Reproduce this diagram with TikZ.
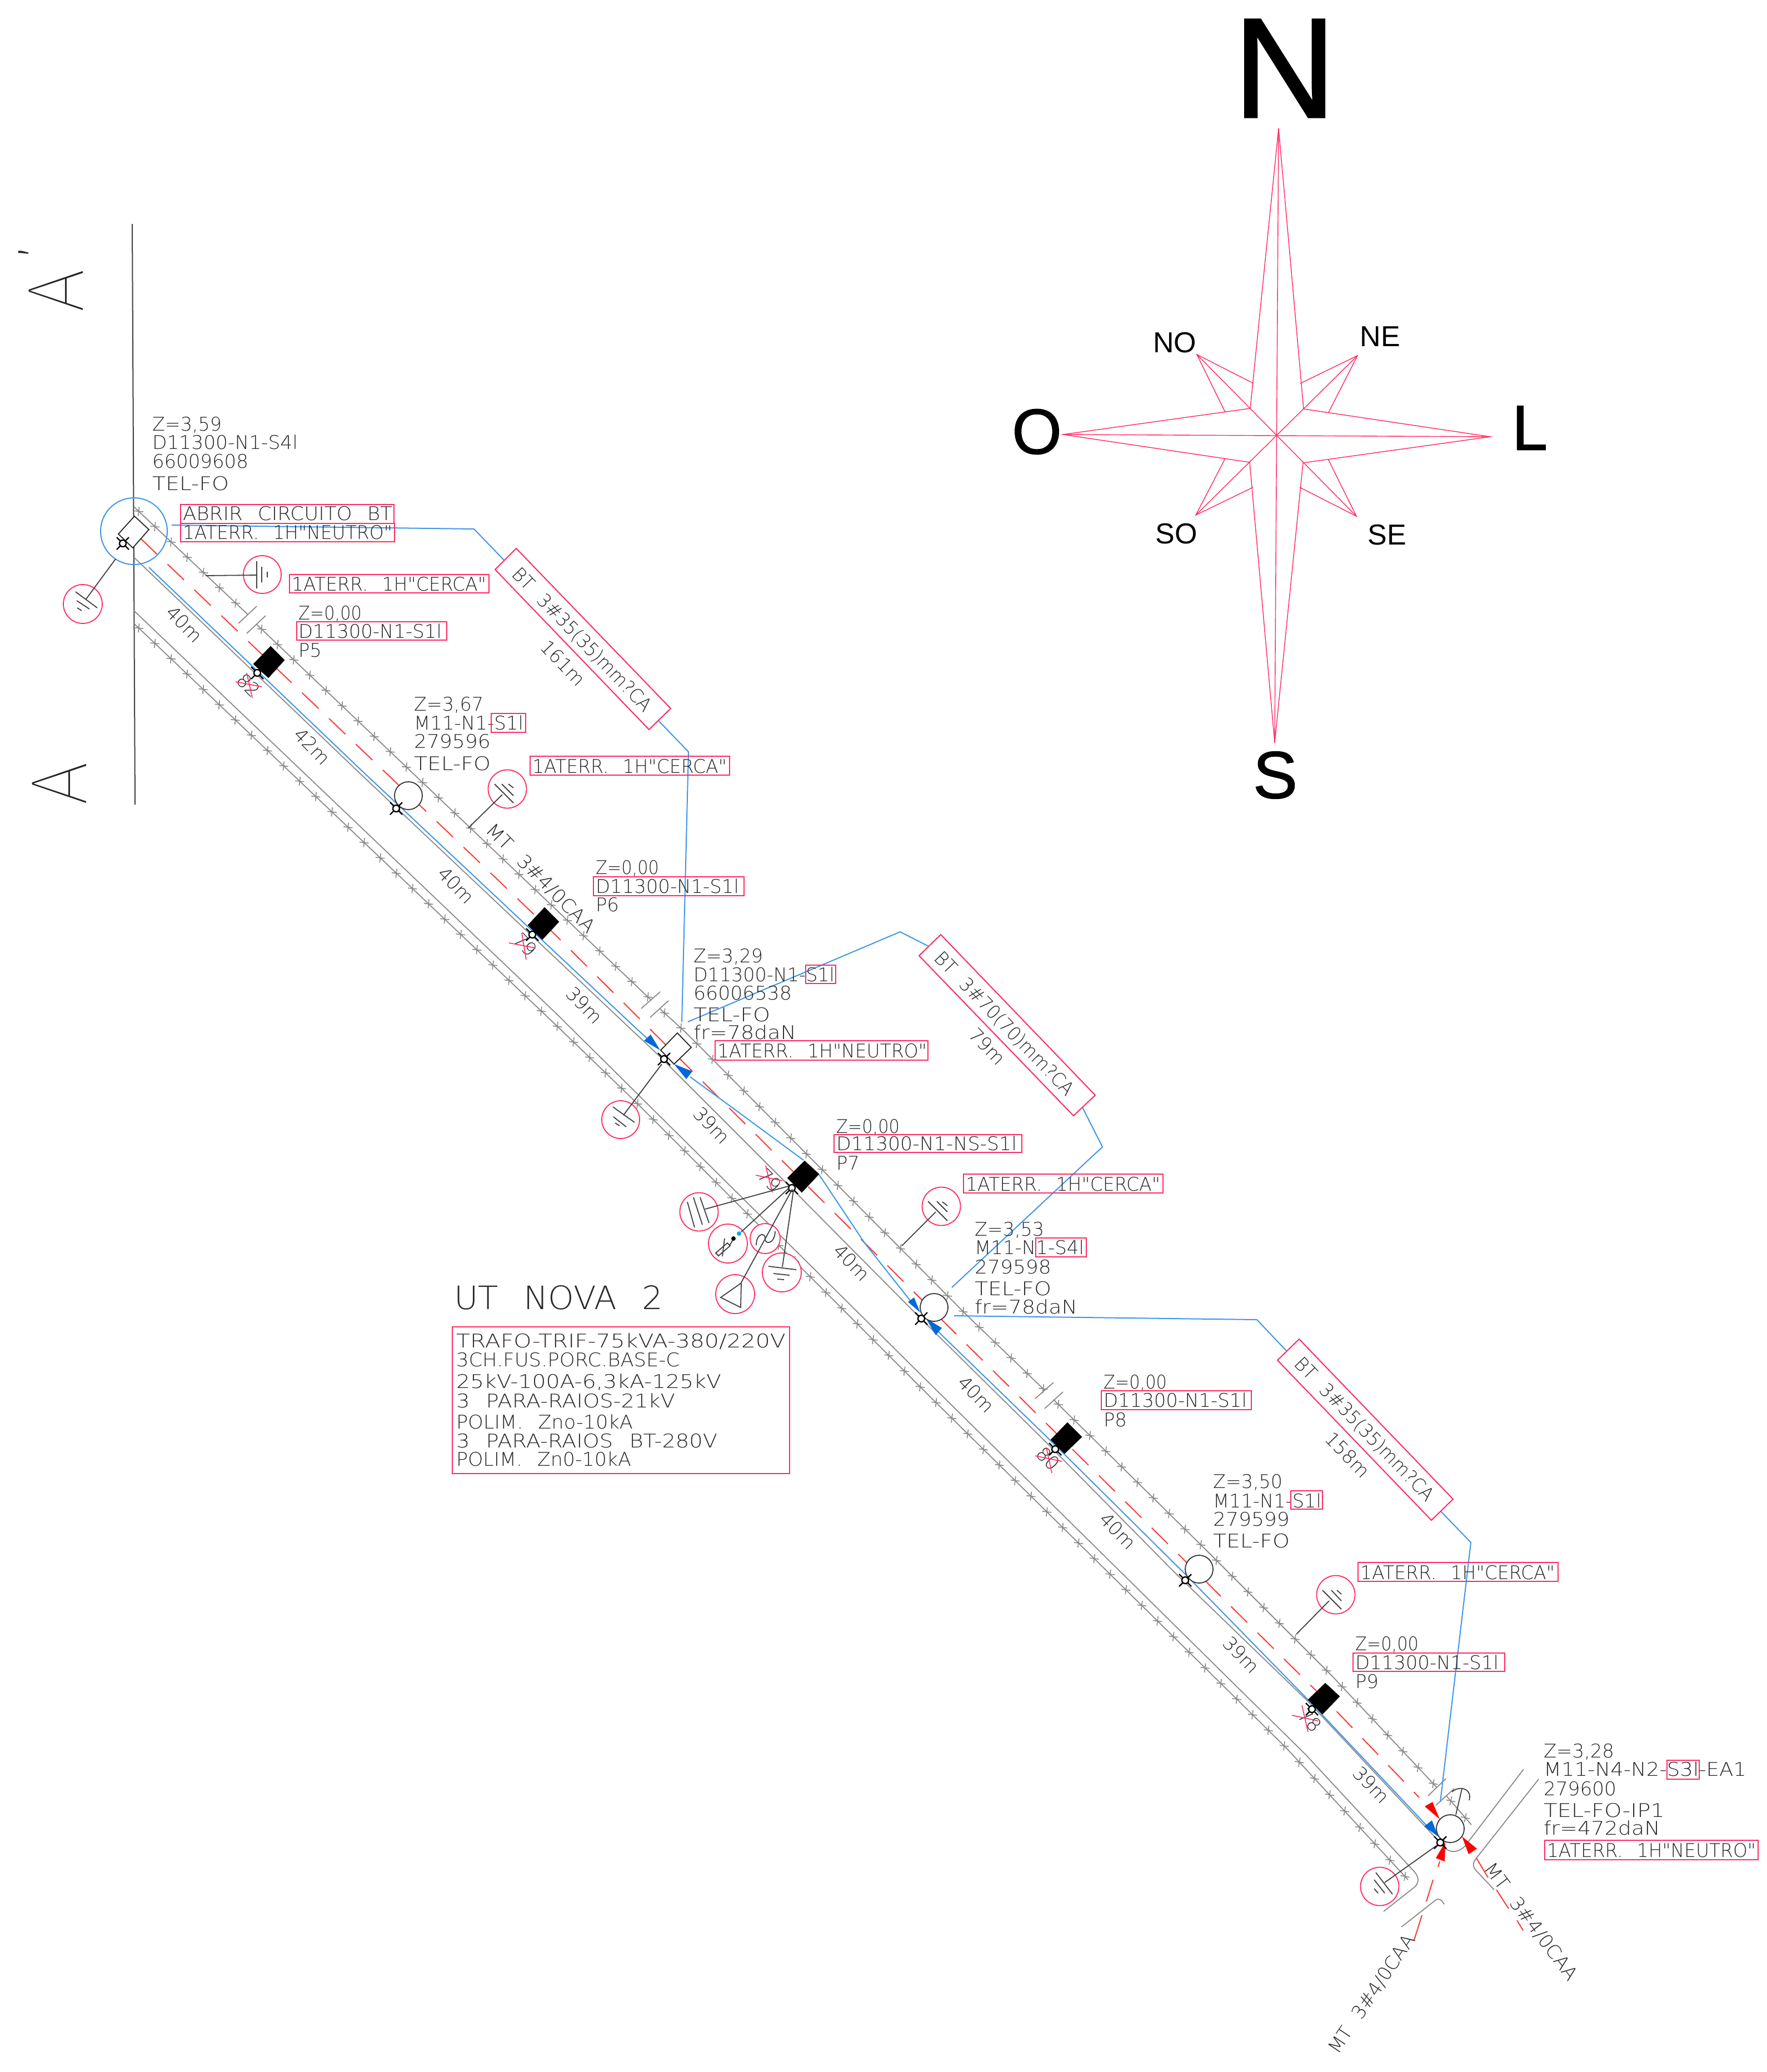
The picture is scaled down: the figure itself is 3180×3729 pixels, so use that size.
\documentclass[tikz,border=0pt]{standalone}
\usepackage{graphicx}
\usepackage{fontspec}
\usetikzlibrary{decorations.markings}
\newfontfamily\cadfam[WordSpace=2.4]{DejaVu Sans ExtraLight}
\newfontfamily\thinfam{Fira Sans Thin}
\newfontfamily\arialfam{Liberation Sans}
\newfontfamily\arialheavy[FakeBold=1.2]{Liberation Sans}
\newcommand\cadsize{\cadfam\fontsize{34}{34}\selectfont}
\newcommand\cadlarge{\cadfam\fontsize{58}{58}\selectfont}
\newcommand\T[2]{\resizebox{#1pt}{\height}{#2}}
\definecolor{txtgray}{HTML}{2A2A2A}
\definecolor{roadgray}{HTML}{8A8A8A}
\definecolor{pinkline}{HTML}{FF2A62}
\definecolor{redline}{HTML}{FF3838}
\definecolor{blueline}{HTML}{3F96E8}
\definecolor{bluefill}{HTML}{0068D9}
\tikzset{
  lbl/.style={anchor=base west,inner sep=0pt,outer sep=0pt,text=txtgray,font=\cadsize},
  rlbl/.style={anchor=center,inner sep=0pt,outer sep=0pt,text=txtgray,font=\cadsize,rotate=#1},
  secl/.style={anchor=base west,inner sep=0pt,outer sep=0pt,text=black!85,rotate=90},
  pinkbox/.style={draw=pinkline,line width=2pt},
  pinkring/.style={draw=pinkline,line width=1.8pt,fill=white},
  earth/.style={draw=black!75,line width=1.8pt},
  road/.style={draw=roadgray,line width=1.8pt},
  fencemarks/.style={road,postaction={decorate},decoration={markings,
     mark=between positions 12pt and 1 step 40pt with {
       \draw[draw=roadgray,line width=1.6pt] (-6.5pt,-5pt)--(6.5pt,5pt) (-5pt,6.5pt)--(5pt,-6.5pt);}}},
  reddash/.style={draw=redline,line width=2pt,dash pattern=on 41pt off 26pt},
  bluew/.style={draw=blueline,line width=2pt},
  bluearrow/.style={fill=bluefill,draw=none},
  redarrow/.style={fill=red,draw=none},
  polecirc/.style={draw=black!80,line width=1.8pt,fill=white},
  polesq/.style={draw=black!85,line width=1.8pt,fill=white},
  polefill/.style={fill=black,draw=black},
  rosa/.style={draw=pinkline,line width=1.4pt},
  cardinal/.style={anchor=center,inner sep=0pt,outer sep=0pt,text=black},
  polemark/.pic={
    \draw[black,line width=2.4pt] (-11pt,-11pt)--(-4pt,-4pt) (11pt,-11pt)--(4pt,-4pt) (-11pt,11pt)--(-4pt,4pt) (11pt,11pt)--(4pt,4pt);
    \draw[black,line width=2.4pt,fill=white] (0pt,0pt) circle (6pt);
  }
}
\begin{document}
\begin{tikzpicture}[x=1pt,y=-1pt]
\useasboundingbox (0,0) rectangle (3180,3729);
% section line
\draw[black!75,line width=2pt] (238,403)--(243,1448);
\node[secl,font=\thinfam\fontsize{143}{143}\selectfont] (secA1) at (149,562) {\T{78}{A}};
\node[secl,font=\cadfam\fontsize{80}{80}\selectfont] (secA1p) at (91,466) {’};
\node[secl,font=\thinfam\fontsize{143}{143}\selectfont] (secA2) at (155,1449) {\T{78}{A}};
% compass
\draw[rosa] (2250,735)--(2301,231)--(2346,736)--(2682,786)--(2345,833)--(2294,1337)--(2249,832)--(1913,782)--(2250,735);
\draw[rosa] (2301,231)--(2294,1337) (1913,782)--(2682,786);
\draw[rosa] (2154,638)--(2441,929) (2443,640)--(2152,927);
\draw[rosa] (2256,690)--(2154,638)--(2205,742);
\draw[rosa] (2340,690)--(2443,640)--(2391,742);
\draw[rosa] (2205,825)--(2152,927)--(2255,877);
\draw[rosa] (2390,826)--(2441,929)--(2339,877);
\node[cardinal,font=\arialheavy\fontsize{256}{256}\selectfont] (cN) at (2312,123) {N};
\node[cardinal,font=\arialheavy\fontsize{120}{120}\selectfont] (cS) at (2295,1395) {S};
\node[cardinal,font=\arialheavy\fontsize{115}{115}\selectfont] (cO) at (1866,777) {O};
\node[cardinal,font=\arialheavy\fontsize{115}{115}\selectfont] (cL) at (2753,770) {L};
\node[cardinal,font=\arialfam\fontsize{52}{52}\selectfont] (cNO) at (2114,617) {NO};
\node[cardinal,font=\arialfam\fontsize{52}{52}\selectfont] (cNE) at (2484,606) {NE};
\node[cardinal,font=\arialfam\fontsize{52}{52}\selectfont] (cSO) at (2117,961) {SO};
\node[cardinal,font=\arialfam\fontsize{52}{52}\selectfont] (cSE) at (2496,963) {SE};
% upper fence with gaps
\draw[fencemarks] (241,912)--(446,1106);
\draw[fencemarks] (462,1124)--(1172,1800);
\draw[fencemarks] (1187,1815)--(1234,1858)--(1742,2369)--(1880,2502);
\draw[fencemarks] (1896,2519)--(2171,2790)--(2397,3016)--(2586,3217);
\draw[fencemarks] (2603,3232)--(2648,3284);
\draw[road] (429,1122)--(462,1091) (444,1140)--(478,1108);
\draw[road] (1154,1815)--(1188,1785) (1170,1831)--(1203,1801);
\draw[road] (1863,2517)--(1896,2488) (1880,2535)--(1913,2505);
\draw[road] (2570,3232)--(2602,3201) (2584,3249)--(2617,3219);
% road edges
\draw[road] (241,1003)--(650,1394)--(1186,1900)--(1418,2132)--(1653,2369)--(1882,2595)--(2119,2835)--(2354,3062)--(2586,3310)
   .. controls (2601,3332) and (2617,3340) .. (2636,3323)--(2742,3184);
\draw[road] (2769,3202)--(2657,3344) .. controls (2650,3353) and (2650,3358) .. (2656,3366)--(2689,3401);
\draw[road] (2522,3468)--(2583,3420) .. controls (2590,3415) and (2595,3420) .. (2599,3427);
\draw[road] (241,1099)--(1000,1823)--(1650,2467)--(2350,3158)--(2545,3368)
   .. controls (2554,3378) and (2554,3388) .. (2546,3396)--(2490,3440);
\draw[fencemarks] (241,1122)--(1006,1850)--(1148,1987)--(1659,2499)--(2315,3146)--(2534,3383);
% medium voltage line
\draw[reddash] (253,969)--(1000,1683)--(1740,2420)--(2396,3070)--(2554,3235);
\draw[draw=redline,line width=2pt] (2591,3350)--(2588,3360) (2579,3383)--(2567,3422) (2559,3447)--(2545,3491);
\draw[draw=redline,line width=2pt] (2657,3344)--(2678,3379) (2693,3401)--(2715,3435) (2730,3456)--(2741,3474);
% low voltage line
\draw[bluew] (268,1021)--(650,1386)--(1144,1850)--(1175,1878);
\draw[bluew] (1242,1938)--(1316,1992)--(1446,2088);
\draw[bluew] (1474,2114)--(1556,2237)--(1640,2343);
\draw[bluew] (1689,2397)--(1890,2592)--(2135,2835)--(2354,3059)--(2567,3285);
\fill[bluearrow] (1159,1873)--(1171,1862)--(1188,1890)--cycle;
\fill[bluearrow] (1213,1915)--(1246,1928)--(1235,1942)--cycle;
\fill[bluearrow] (1656,2362)--(1634,2343)--(1645,2335)--cycle;
\fill[bluearrow] (1666,2372)--(1695,2390)--(1684,2403)--cycle;
\fill[bluearrow] (2588,3305)--(2563,3287)--(2577,3276)--cycle;
\fill[redarrow] (2591,3274)--(2564,3251)--(2578,3243)--cycle;
\fill[redarrow] (2601,3315)--(2584,3344)--(2600,3350)--cycle;
\fill[redarrow] (2631,3305)--(2658,3327)--(2643,3337)--cycle;
% BT leader lines
\draw[bluew] (309,945)--(853,952)--(907,1008);
\draw[bluew] (1185,1297)--(1239,1353)--(1227,1839);
\draw[bluew] (1238,1839)--(1620,1677)--(1671,1703);
\draw[bluew] (1948,1993)--(1984,2064)--(1713,2317);
\draw[bluew] (1717,2368)--(2262,2375)--(2315,2431);
\draw[bluew] (2593,2720)--(2647,2776)--(2592,3243);
% BT label boxes
\draw[pinkbox] (929,987)--(1207,1275)--(1168,1313)--(891,1025)--cycle;
\draw[pinkbox] (1693,1682)--(1971,1971)--(1932,2008)--(1654,1720)--cycle;
\draw[pinkbox] (2338,2410)--(2615,2698)--(2576,2736)--(2299,2448)--cycle;
\node[rlbl=-46] (bt1) at (1047,1152) {\T{345}{BT 3\#35(35)mm?CA}};
\node[rlbl=-46] (bt2) at (1807,1843) {\T{345}{BT 3\#70(70)mm?CA}};
\node[rlbl=-46] (bt3) at (2455,2573) {\T{345}{BT 3\#35(35)mm?CA}};
\node[rlbl=-46] (d161) at (1013,1193) {161m};
\node[rlbl=-46] (d79b) at (1777,1883) {79m};
\node[rlbl=-46] (d158) at (2425,2618) {158m};
% span distances
\node[rlbl=-46] (s1) at (332,1123) {40m};
\node[rlbl=-46] (s2) at (562,1343) {42m};
\node[rlbl=-46] (s3) at (821,1593) {40m};
\node[rlbl=-46] (s4) at (1052,1809) {39m};
\node[rlbl=-46] (s5) at (1281,2025) {39m};
\node[rlbl=-46] (s6) at (1533,2272) {40m};
\node[rlbl=-46] (s7) at (1757,2509) {40m};
\node[rlbl=-46] (s8) at (2012,2755) {40m};
\node[rlbl=-46] (s9) at (2234,2978) {39m};
\node[rlbl=-46] (s10) at (2468,3212) {39m};
\node[rlbl=-45] (mt1) at (973,1581) {\T{262}{MT 3\#4/0CAA}};
\node[rlbl=56] (mt2) at (2469,3589) {\T{250}{MT 3\#4/0CAA}};
\node[rlbl=-53] (mt3) at (2755,3459) {\T{255}{MT 3\#4/0CAA}};
% crossed numbers
\node[rlbl=-46] (n82) at (447,1233) {82};
\draw[draw=pinkline,line width=1.6pt] (424,1227)--(471,1236) (444,1211)--(454,1256);
\node[rlbl=-46] (n79a) at (945,1700) {79};
\draw[draw=pinkline,line width=1.6pt] (916,1697)--(964,1706) (939,1679)--(947,1727);
\node[rlbl=-46] (n79b) at (1385,2124) {79};
\draw[draw=pinkline,line width=1.6pt] (1360,2115)--(1408,2125) (1378,2098)--(1390,2146);
\node[rlbl=-46] (n80) at (1886,2625) {80};
\draw[draw=pinkline,line width=1.6pt] (1863,2620)--(1911,2630) (1883,2605)--(1893,2651);
\node[rlbl=-46] (n78) at (2357,3096) {78};
\draw[draw=pinkline,line width=1.6pt] (2325,3087)--(2372,3097) (2343,3069)--(2354,3117);
% poles
\draw[blueline,line width=2pt] (241,956) circle (60);
\draw[polesq] (242,929)--(268,953)--(239,986)--(213,961)--cycle;
\pic at (221,978) {polemark};
\fill[polefill] (487,1163)--(512,1188)--(483,1220)--(456,1195)--cycle;
\pic at (463,1211) {polemark};
\draw[polecirc] (735,1432) circle (25);
\pic at (713,1455) {polemark};
\fill[polefill] (980,1633)--(1006,1659)--(976,1691)--(950,1665)--cycle;
\pic at (958,1682) {polemark};
\draw[polesq] (1219,1859)--(1244,1885)--(1213,1915)--(1189,1890)--cycle;
\pic at (1195,1906) {polemark};
\fill[polefill] (1448,2089)--(1474,2113)--(1443,2146)--(1417,2120)--cycle;
\pic at (1425,2138) {polemark};
\draw[polecirc] (1681,2353) circle (25);
\pic at (1658,2373) {polemark};
\fill[polefill] (1921,2560)--(1947,2586)--(1916,2616)--(1891,2591)--cycle;
\pic at (1899,2608) {polemark};
\draw[polecirc] (2158,2824) circle (25);
\pic at (2133,2844) {polemark};
\fill[polefill] (2385,3029)--(2411,3053)--(2380,3085)--(2354,3059)--cycle;
\pic at (2361,3076) {polemark};
\draw[polecirc] (2610,3291) circle (25);
\pic at (2592,3316) {polemark};
\draw[earth] (2620,3266)--(2631,3219);
\draw[earth] (2613,3225) .. controls (2625,3213) and (2650,3218) .. (2644,3240);
% ground symbols
\draw[pinkring] (149,1087) circle (35);
\draw[earth] (208,1006)--(155,1078) (136,1065)--(175,1094) (138,1081)--(161,1096) (139,1094)--(147,1099);
\draw[pinkring] (472,1034) circle (34);
\draw[earth] (370,1036)--(462,1035) (462,1010)--(462,1059) (471,1020)--(471,1048) (481,1029)--(481,1039);
\draw[pinkring] (913,1420) circle (34.5);
\draw[earth] (843,1490)--(904,1430) (890,1411)--(924,1445) (903,1411)--(924,1432) (915,1411)--(924,1418);
\draw[pinkring] (1117,2015) circle (34);
\draw[earth] (1191,1915)--(1122,2007) (1103,1992)--(1142,2020) (1104,2010)--(1127,2028) (1107,2021)--(1115,2026);
\draw[pinkring] (1258,2181) circle (34.5);
\draw[earth] (1269,2176)--(1418,2135) (1237,2163)--(1250,2209) (1248,2155)--(1264,2204) (1260,2155)--(1276,2201);
\draw[pinkring] (1310,2238) circle (35);
\draw[earth] (1421,2137)--(1334,2217);
\draw[earth] (1288,2255)--(1293,2260)--(1314,2242)--(1309,2237)--cycle (1304,2229)--(1300,2261) (1314,2240)--(1320,2229);
\fill[black] (1320,2229) circle (4);
\fill[cyan] (1330,2220) circle (4);
\draw[pinkring] (1377,2229) circle (27);
\draw[earth] (1361,2241) .. controls (1361,2218) and (1378,2218) .. (1377,2229) .. controls (1376,2240) and (1394,2240) .. (1395,2216);
\draw[pinkring] (1323,2329) circle (35);
\draw[earth] (1426,2140)--(1334,2308) (1334,2309)--(1297,2335)--(1333,2353)--cycle;
\draw[pinkring] (1407,2290) circle (35);
\draw[earth] (1428,2142)--(1408,2280) (1383,2279)--(1433,2285) (1392,2292)--(1421,2295) (1399,2302)--(1411,2303);
\draw[pinkring] (1694,2171) circle (34.5);
\draw[earth] (1623,2242)--(1684,2181) (1670,2162)--(1705,2197) (1686,2162)--(1705,2181) (1696,2163)--(1705,2170);
\draw[pinkring] (2404,2870) circle (34.5);
\draw[earth] (2333,2941)--(2392,2881) (2380,2862)--(2414,2896) (2396,2862)--(2414,2881) (2406,2862)--(2414,2869);
\draw[pinkring] (2483,3395) circle (34.5);
\draw[earth] (2586,3321)--(2492,3388) (2476,3370)--(2506,3409) (2473,3383)--(2492,3407) (2473,3399)--(2480,3407);
% pole texts
\node[lbl] (a1) at (274,775) {\T{125}{Z=3,59}};
\node[lbl] (a2) at (274,808) {\T{262}{D11300-N1-S4l}};
\node[lbl] (a3) at (274,842) {\T{173}{66009608}};
\node[lbl] (a4) at (274,882) {\T{138}{TEL-FO}};
\draw[pinkbox] (325,908) rectangle (709,942);
\draw[pinkbox] (325,942) rectangle (710,975);
\node[lbl] (a5) at (329,936) {\T{377}{ABRIR CIRCUITO BT}};
\node[lbl] (a6) at (329,970) {\T{377}{1ATERR. 1H"NEUTRO"}};
\draw[pinkbox] (521,1034) rectangle (880,1067);
\node[lbl] (g1) at (525,1063) {\T{350}{1ATERR. 1H"CERCA"}};
\node[lbl] (b1) at (537,1115) {\T{114}{Z=0,00}};
\draw[pinkbox] (534,1119) rectangle (804,1152);
\node[lbl] (b2) at (537,1148) {\T{258}{D11300-N1-S1l}};
\node[lbl] (b3) at (537,1182) {\T{42}{P5}};
\node[lbl] (c1) at (745,1279) {\T{125}{Z=3,67}};
\node[lbl] (c2) at (745,1313) {\T{197}{M11-N1-S1l}};
\draw[pinkbox] (884,1284) rectangle (946,1318);
\node[lbl] (c3) at (745,1346) {\T{138}{279596}};
\node[lbl] (c4) at (745,1386) {\T{138}{TEL-FO}};
\draw[pinkbox] (954,1361) rectangle (1313,1395);
\node[lbl] (g2) at (958,1391) {\T{350}{1ATERR. 1H"CERCA"}};
\node[lbl] (d1) at (1072,1573) {\T{114}{Z=0,00}};
\draw[pinkbox] (1068,1578) rectangle (1339,1612);
\node[lbl] (d2) at (1072,1607) {\T{258}{D11300-N1-S1l}};
\node[lbl] (d3) at (1072,1640) {\T{42}{P6}};
\node[lbl] (e1) at (1248,1732) {\T{125}{Z=3,29}};
\node[lbl] (e2) at (1248,1766) {\T{254}{D11300-N1-S1l}};
\draw[pinkbox] (1450,1737) rectangle (1504,1770);
\node[lbl] (e3) at (1248,1799) {\T{177}{66006538}};
\node[lbl] (e4) at (1248,1838) {\T{138}{TEL-FO}};
\node[lbl] (e5) at (1248,1870) {\T{185}{fr=78daN}};
\draw[pinkbox] (1287,1873) rectangle (1670,1908);
\node[lbl] (e6) at (1291,1903) {\T{377}{1ATERR. 1H"NEUTRO"}};
\node[lbl] (f1) at (1505,2039) {\T{114}{Z=0,00}};
\draw[pinkbox] (1501,2042) rectangle (1839,2074);
\node[lbl] (f2) at (1505,2070) {\T{325}{D11300-N1-NS-S1l}};
\node[lbl] (f3) at (1505,2105) {\T{42}{P7}};
\draw[pinkbox] (1734,2113) rectangle (2093,2147);
\node[lbl] (g3) at (1738,2143) {\T{350}{1ATERR. 1H"CERCA"}};
\node[lbl] (h1) at (1754,2224) {\T{125}{Z=3,53}};
\node[lbl] (h2) at (1754,2257) {\T{197}{M11-N1-S4l}};
\draw[pinkbox] (1864,2228) rectangle (1955,2262);
\node[lbl] (h3) at (1754,2292) {\T{138}{279598}};
\node[lbl] (h4) at (1754,2331) {\T{138}{TEL-FO}};
\node[lbl] (h5) at (1754,2364) {\T{185}{fr=78daN}};
\node[lbl] (i1) at (1986,2499) {\T{114}{Z=0,00}};
\draw[pinkbox] (1982,2503) rectangle (2252,2537);
\node[lbl] (i2) at (1986,2532) {\T{258}{D11300-N1-S1l}};
\node[lbl] (i3) at (1986,2567) {\T{42}{P8}};
\node[lbl] (j1) at (2183,2678) {\T{125}{Z=3,50}};
\node[lbl] (j2) at (2183,2713) {\T{195}{M11-N1-S1l}};
\draw[pinkbox] (2323,2683) rectangle (2380,2716);
\node[lbl] (j3) at (2183,2746) {\T{138}{279599}};
\node[lbl] (j4) at (2183,2785) {\T{138}{TEL-FO}};
\draw[pinkbox] (2444,2812) rectangle (2804,2846);
\node[lbl] (g4) at (2448,2842) {\T{350}{1ATERR. 1H"CERCA"}};
\node[lbl] (k1) at (2439,2970) {\T{114}{Z=0,00}};
\draw[pinkbox] (2435,2975) rectangle (2708,3008);
\node[lbl] (k2) at (2439,3004) {\T{258}{D11300-N1-S1l}};
\node[lbl] (k3) at (2439,3038) {\T{42}{P9}};
\node[lbl] (m1) at (2778,3163) {\T{127}{Z=3,28}};
\node[lbl] (m2) at (2778,3196) {\T{365}{M11-N4-N2-S3l-EA1}};
\draw[pinkbox] (3000,3168) rectangle (3058,3202);
\node[lbl] (m3) at (2778,3231) {\T{131}{279600}};
\node[lbl] (m4) at (2778,3270) {\T{218}{TEL-FO-IP1}};
\node[lbl] (m5) at (2778,3302) {\T{210}{fr=472daN}};
\draw[pinkbox] (2780,3312) rectangle (3164,3347);
\node[lbl] (m6) at (2784,3342) {\T{376}{1ATERR. 1H"NEUTRO"}};
% transformer block
\node[lbl,font=\cadlarge] (ut) at (817,2356) {\T{376}{UT NOVA 2}};
\draw[pinkbox] (814,2388) rectangle (1421,2652);
\node[lbl] (t1) at (821,2425) {\T{593}{TRAFO-TRIF-75kVA-380/220V}};
\node[lbl] (t2) at (821,2459) {\T{402}{3CH.FUS.PORC.BASE-C}};
\node[lbl] (t3) at (821,2498) {\T{477}{25kV-100A-6,3kA-125kV}};
\node[lbl] (t4) at (821,2533) {\T{394}{3 PARA-RAIOS-21kV}};
\node[lbl] (t5) at (821,2571) {\T{318}{POLIM. Zno-10kA}};
\node[lbl] (t6) at (821,2605) {\T{470}{3 PARA-RAIOS BT-280V}};
\node[lbl] (t7) at (821,2638) {\T{315}{POLIM. Zn0-10kA}};
\end{tikzpicture}
\end{document}
